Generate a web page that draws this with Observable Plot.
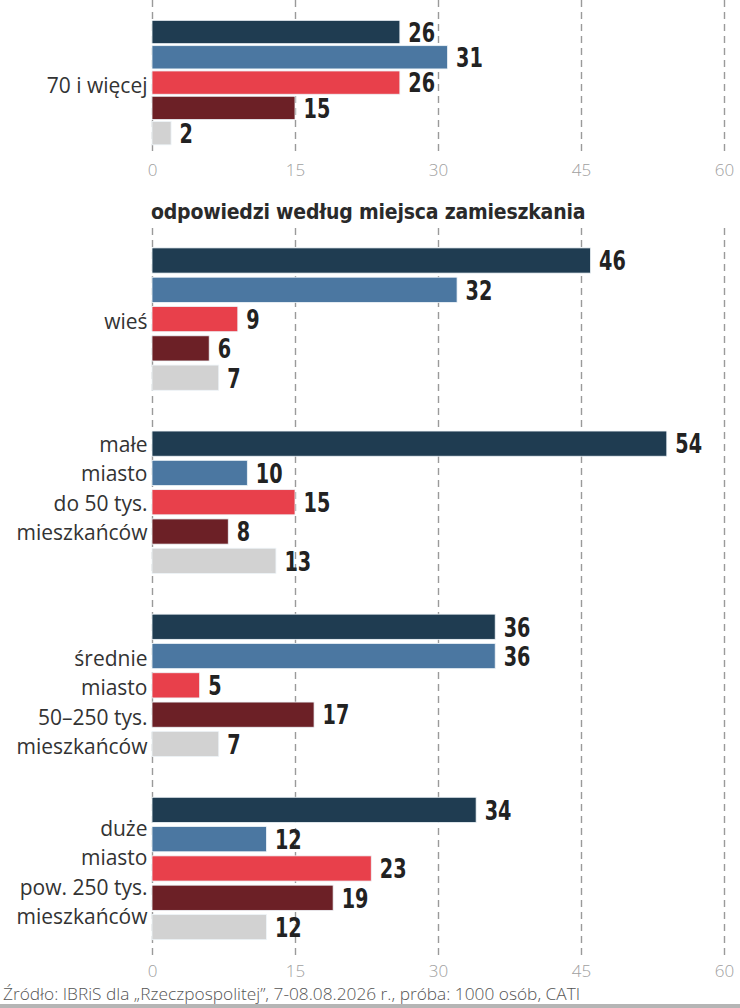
<!DOCTYPE html>
<html>
<head>
<meta charset="utf-8">
<script src="https://cdn.jsdelivr.net/npm/d3@7"></script>
<script src="https://cdn.jsdelivr.net/npm/@observablehq/plot@0.6"></script>
<style>
  html, body { margin: 0; padding: 0; background: #fff; }
  #wrap { width: 740px; height: 1008px; position: relative; overflow: hidden; }
  #top { position: absolute; left: 0; top: 0; }
  #title { position: absolute; left: 151px; top: 200px; font-family: "DejaVu Sans Condensed", "DejaVu Sans", sans-serif; font-stretch: condensed; font-weight: bold; font-size: 21px; color: #2a2a2a; white-space: nowrap; letter-spacing: -0.2px; }
  #bottom { position: absolute; left: 0; top: 228px; }
  #source { position: absolute; left: 3px; top: 982px; font-family: "Open Sans", sans-serif; font-weight: 300; font-size: 17.3px; color: #555; white-space: nowrap; letter-spacing: 0px; }
  #line { position: absolute; left: 0; top: 1004px; width: 740px; height: 4px; background: #b5b5b5; }
</style>
</head>
<body>
<div id="wrap">
  <div id="top"></div>
  <div id="title">odpowiedzi według miejsca zamieszkania</div>
  <div id="bottom"></div>
  <div id="source">Źródło: IBRiS dla „Rzeczpospolitej”, 7-08.08.2026 r., próba: 1000 osób, CATI</div>
  <div id="line"></div>
</div>
<script>
// ---- data ----
const seriesColors = ["#1f3c51", "#4b77a1", "#e8404b", "#6c2026", "#d2d2d2"];
const topGroup = "70 i więcej";
const topValues = [26, 31, 26, 15, 2];
const placeGroups = ["wieś", "małe\nmiasto\ndo 50 tys.\nmieszkańców", "średnie\nmiasto\n50–250 tys.\nmieszkańców", "duże\nmiasto\npow. 250 tys.\nmieszkańców"];
const wiesValues = [46, 32, 9, 6, 7];
const maleValues = [54, 10, 15, 8, 13];
const srednieValues = [36, 36, 5, 17, 7];
const duzeValues = [34, 12, 23, 19, 12];
const xTicks = [0, 15, 30, 45, 60];

// layout: where each group's label block is centred (in bar rows)
const labelCentre = [2, 1.45, 2.5, 2.05];

const valueFont = {fontFamily: "'DejaVu Sans', sans-serif", fontWeight: "bold", fontSize: 26, fill: "#222"};
const squeeze = 0.74;

function rows(values, gi, groupStep) {
  return values.map((v, si) => ({g: gi, s: si, pos: gi * groupStep + si, value: v, color: seriesColors[si]}));
}

function chart({data, labels, height, marginBottom, yDomain, yRange, half}) {
  const svg = Plot.plot({
    width: 740,
    height,
    marginLeft: 152,
    marginRight: 16,
    marginTop: 0,
    marginBottom,
    x: {domain: [0, 60], ticks: xTicks, tickSize: 0, tickPadding: 8, label: null, tickFormat: d => String(d)},
    y: {type: "linear", domain: yDomain, range: yRange, axis: null},
    style: {fontFamily: "'Open Sans', sans-serif", fontSize: "17px", color: "#a0a0a0", background: "transparent", overflow: "visible"},
    marks: [
      Plot.ruleX(xTicks, {x: d => d, stroke: "#9a9a9a", strokeWidth: 1.4, strokeDasharray: "7,5"}),
      Plot.rect(data, {x1: 0, x2: "value", y1: d => d.pos - half, y2: d => d.pos + half, fill: "color", stroke: "#eef4f8", strokeWidth: 0.8}),
      Plot.text(data, {x: "value", y: "pos", text: d => String(d.value), textAnchor: "start", dx: 8, dy: 1, ...valueFont}),
      Plot.text(labels, {x: 0, y: "pos", text: "label", textAnchor: "end", dx: -5, lineHeight: 1.4, fontSize: 21, fill: "#333", fontFamily: "'Open Sans', sans-serif"})
    ]
  });
  svg.querySelectorAll("[aria-label='x-axis tick label'] text").forEach(t => { t.setAttribute("font-weight", "300"); });
  // condense the bold value labels horizontally, keeping their anchor point
  svg.querySelectorAll("g[font-weight='bold'] text, text[font-weight='bold']").forEach(t => {
    const tr = t.getAttribute("transform") || "";
    t.setAttribute("transform", (tr + ` scale(${squeeze},1)`).trim());
    const x = t.getAttribute("x");
    if (x !== null && !isNaN(+x)) t.setAttribute("x", +x / squeeze);
  });
  return svg;
}

// top chart: 70 i więcej
const topData = rows(topValues, 0, 0);
const topSvg = chart({
  data: topData,
  labels: [{label: topGroup, pos: 2}],
  height: 185,
  marginBottom: 30,
  yDomain: [-32 / 25.3, (155 - 32) / 25.3],
  yRange: [0, 155],
  half: 0.46
});
document.getElementById("top").appendChild(topSvg);

// bottom chart: miejsce zamieszkania
const step = 6.25;
const allValues = [wiesValues, maleValues, srednieValues, duzeValues];
const bottomData = allValues.flatMap((vals, gi) => rows(vals, gi, step));
const bottomLabels = placeGroups.map((label, gi) => ({label, pos: gi * step + labelCentre[gi]}));
const bottomSvg = chart({
  data: bottomData,
  labels: bottomLabels,
  height: 752,
  marginBottom: 24,
  yDomain: [(4 - 32.5) / 29.3, (728 - 32.5) / 29.3],
  yRange: [4, 728],
  half: 0.43
});
document.getElementById("bottom").appendChild(bottomSvg);
</script>
</body>
</html>
